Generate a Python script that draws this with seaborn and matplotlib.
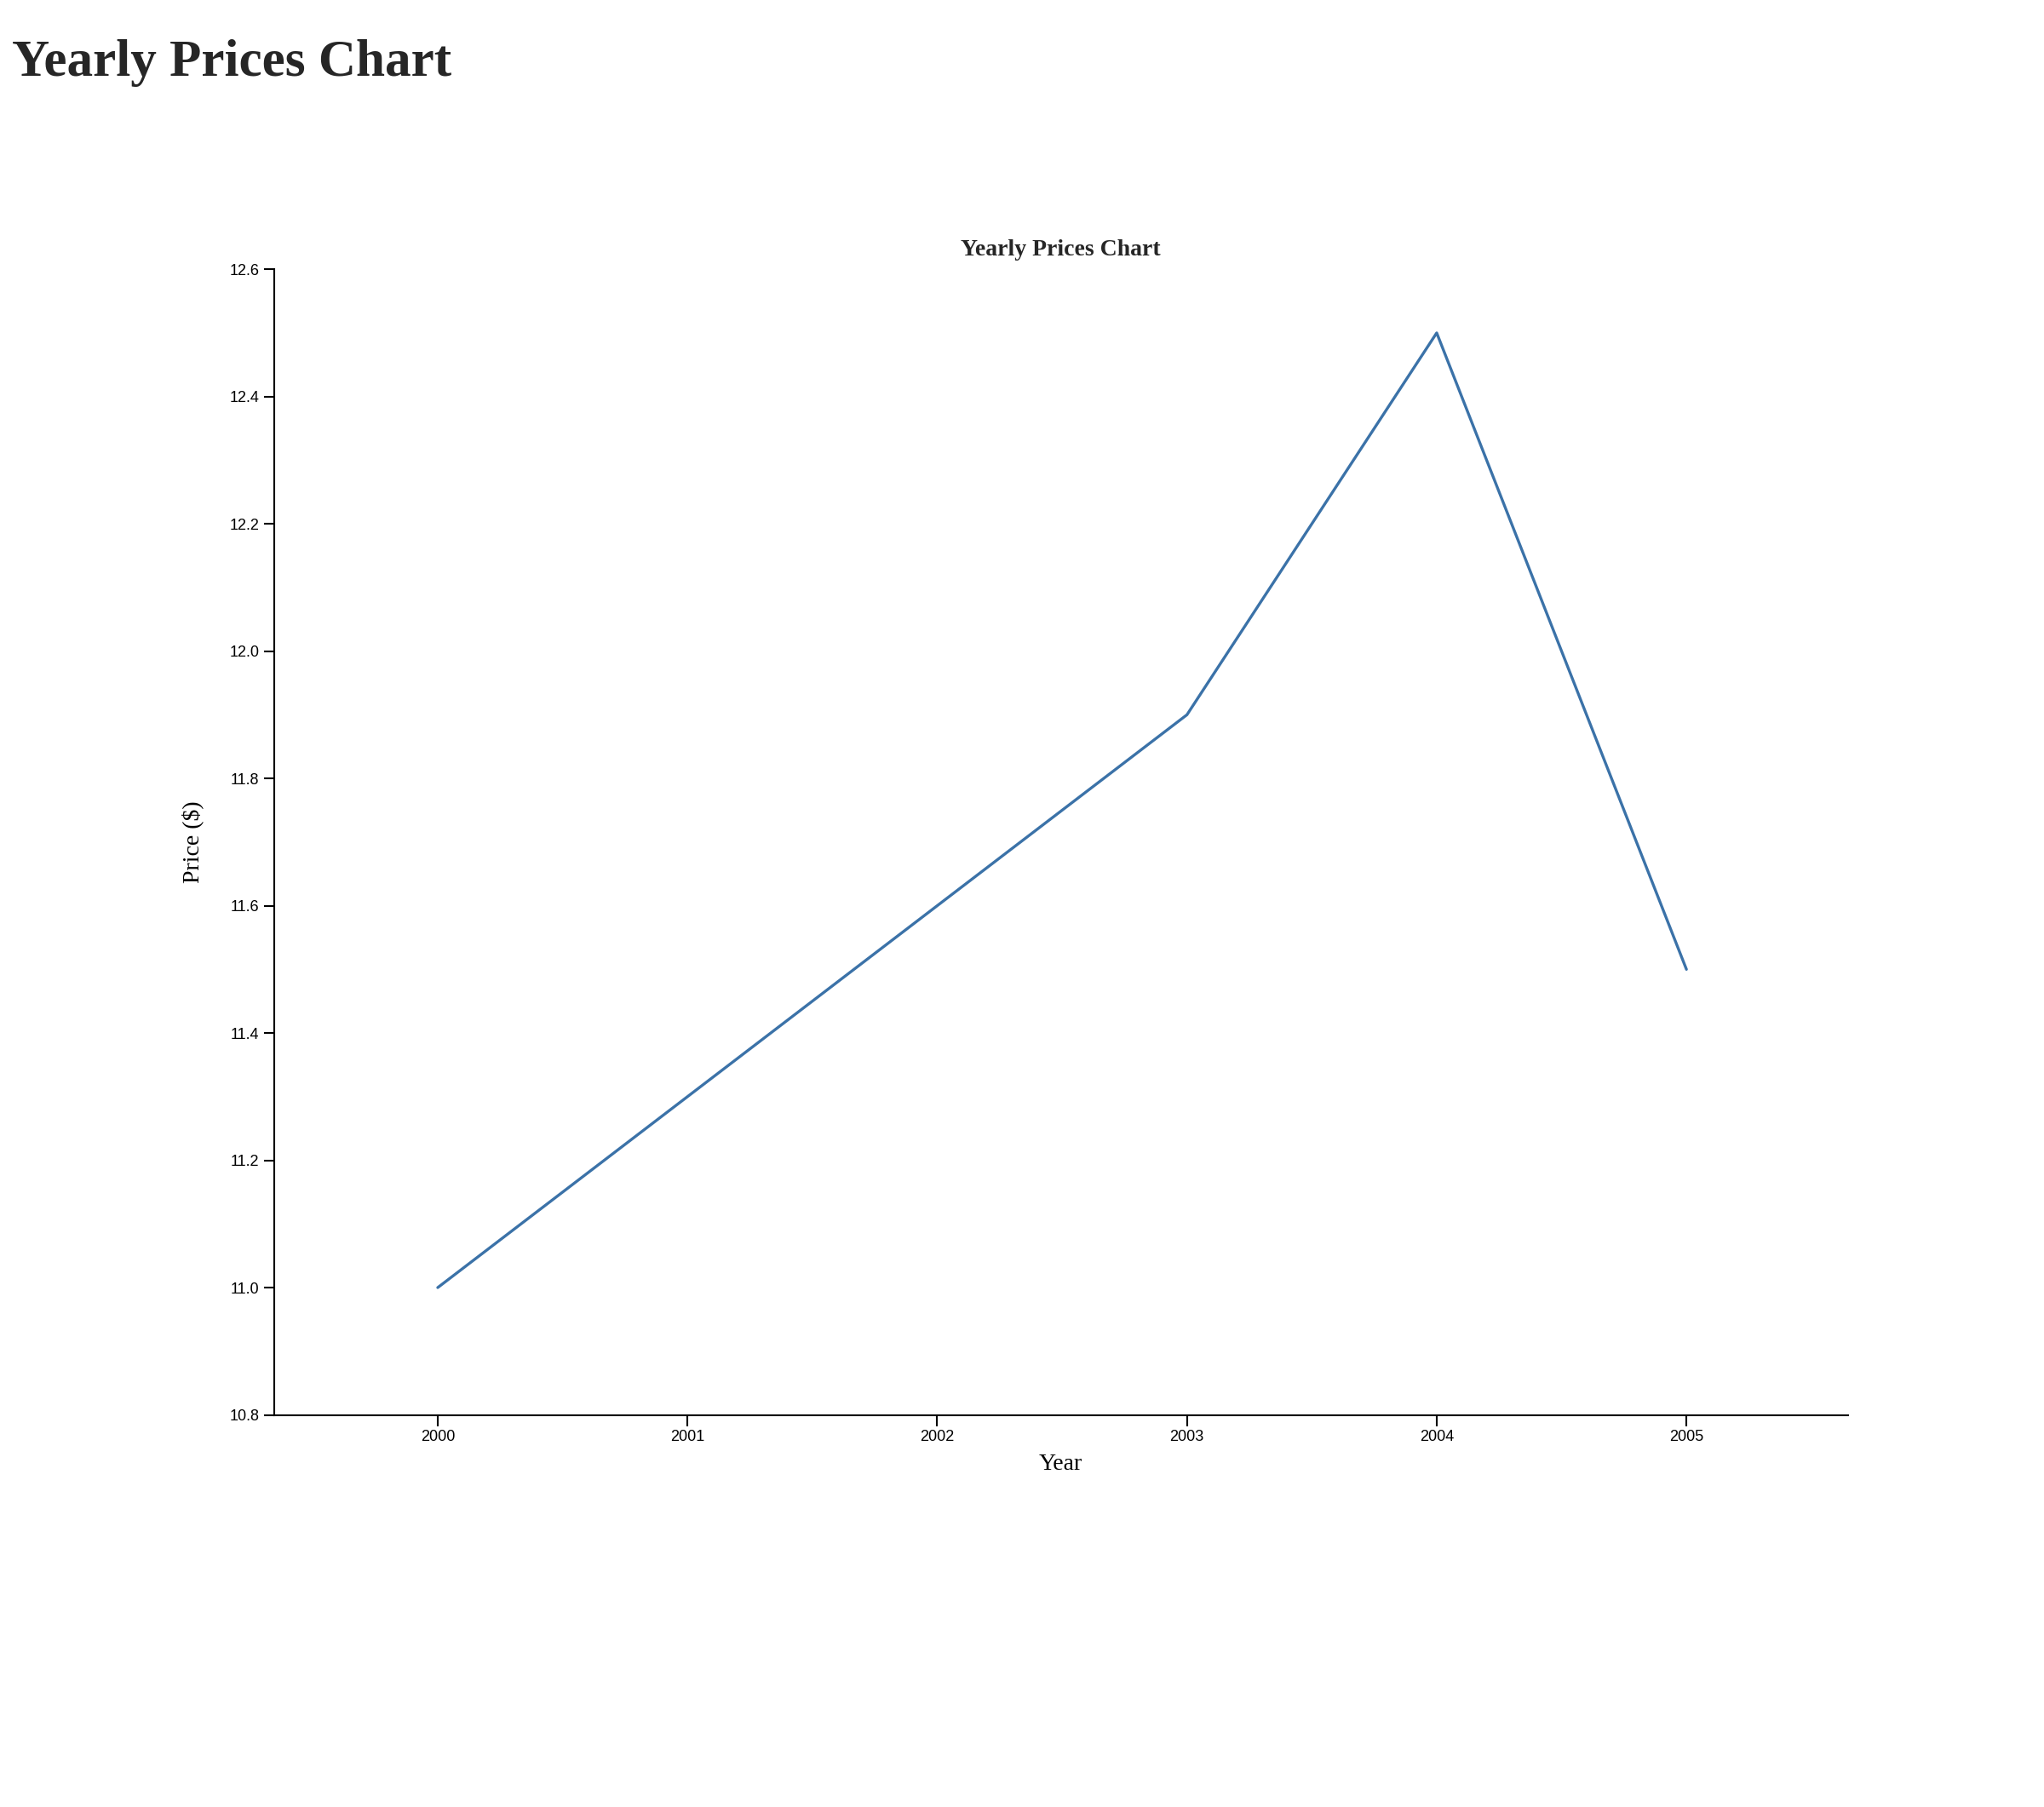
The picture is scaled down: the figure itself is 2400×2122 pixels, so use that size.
import pandas as pd
import matplotlib
matplotlib.use("Agg")
import matplotlib.pyplot as plt
import seaborn as sns

years = [2000, 2001, 2002, 2003, 2004, 2005]
prices = [11.0, 11.3, 11.6, 11.9, 12.5, 11.5]

df = pd.DataFrame({"Year": years, "Price": prices})

sns.set_theme(style="ticks")
plt.rcParams['font.family'] = ['Liberation Sans', 'DejaVu Sans']

fig = plt.figure(figsize=(24, 21.22), dpi=100)
ax = fig.add_axes([0.134, 0.217, 0.770, 0.634])
sns.lineplot(data=df, x="Year", y="Price", color="#3b72a8", linewidth=2.4, ax=ax)

ax.set_xlim(1999.344, 2005.646)
ax.set_ylim(10.8, 12.6)
ax.set_xticks(years)
ax.set_xticklabels([str(y) for y in years])
ax.set_yticks([10.8 + 0.2 * i for i in range(10)])
ax.set_yticklabels([f"{10.8 + 0.2 * i:.1f}" for i in range(10)])
ax.tick_params(labelsize=13, length=9, width=1.5, color="black", labelcolor="black")
for s in ["top", "right"]:
    ax.spines[s].set_visible(False)
for s in ["left", "bottom"]:
    ax.spines[s].set_color("black")
    ax.spines[s].set_linewidth(1.5)

serif = ['Liberation Serif', 'DejaVu Serif']
ax.set_xlabel("Year", fontsize=20, family=serif, color="black", labelpad=8)
ax.set_ylabel("Price ($)", fontsize=20, family=serif, color="black", labelpad=22)
ax.set_title("Yearly Prices Chart", fontsize=20, family=serif, fontweight="bold", pad=12)

fig.text(0.006, 0.965, "Yearly Prices Chart", fontsize=44, family=serif,
         fontweight="bold", va="center", ha="left")

fig.savefig("out.png", dpi=100)
plt.close()
